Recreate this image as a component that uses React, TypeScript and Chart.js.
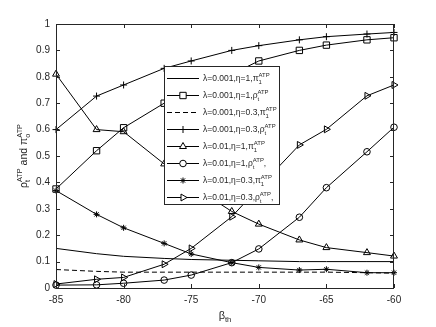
import React, { useEffect, useRef } from 'react';
import { Chart, registerables } from 'chart.js';
import { drawPoint } from 'chart.js/helpers';
Chart.register(...registerables);

// ---- data ----
const betaTh = [-85, -82, -80, -77, -75, -72, -70, -67, -65, -62, -60];
const piL001E1 = [0.15, 0.13, 0.12, 0.112, 0.108, 0.105, 0.103, 0.1, 0.1, 0.1, 0.1];
const rhoL001E1 = [0.375, 0.52, 0.607, 0.7, 0.75, 0.81, 0.86, 0.9, 0.92, 0.94, 0.948];
const piL001E03 = [0.07, 0.063, 0.06, 0.06, 0.06, 0.06, 0.06, 0.06, 0.06, 0.058, 0.056];
const rhoL001E03 = [0.6, 0.727, 0.769, 0.832, 0.86, 0.9, 0.918, 0.94, 0.952, 0.962, 0.968];
const piL01E1 = [0.81, 0.6, 0.592, 0.47, 0.39, 0.29, 0.242, 0.182, 0.153, 0.134, 0.121];
const rhoL01E1 = [0.011, 0.012, 0.018, 0.03, 0.049, 0.096, 0.148, 0.268, 0.38, 0.516, 0.609];
const piL01E03 = [0.369, 0.279, 0.228, 0.169, 0.129, 0.096, 0.078, 0.068, 0.071, 0.058, 0.058];
const rhoL01E03 = [0.015, 0.033, 0.04, 0.09, 0.15, 0.27, 0.38, 0.542, 0.601, 0.728, 0.769];

const xTicks = [-85, -80, -75, -70, -65, -60];
const yTicks = [0, 0.1, 0.2, 0.3, 0.4, 0.5, 0.6, 0.7, 0.8, 0.9, 1];

const legendPrefixes = [
  'λ=0.001,η=1,', 'λ=0.001,η=1,', 'λ=0.001,η=0.3,', 'λ=0.001,η=0.3,',
  'λ=0.01,η=1,', 'λ=0.01,η=1,', 'λ=0.01,η=0.3,', 'λ=0.01,η=0.3,',
];
const legendSymbols = ['π', 'ρ', 'π', 'ρ', 'π', 'ρ', 'π', 'ρ'];
const legendSubs = ['1', 't', '1', 't', '1', 't', '1', 't'];
const legendTails = ['', '', '', '', '', ',', '', ','];

const FONT = '"Liberation Sans", Arial, Helvetica, sans-serif';
const INK = '#262626';

type Part = { t?: string; sup?: string; sub?: string };

function richWidth(ctx: CanvasRenderingContext2D, parts: Part[], size: number) {
  let w = 0;
  for (const p of parts) {
    if (p.t) {
      ctx.font = `${size}px ${FONT}`;
      w += ctx.measureText(p.t).width;
    } else {
      ctx.font = `${size * 0.7}px ${FONT}`;
      const a = p.sup ? ctx.measureText(p.sup).width : 0;
      const b = p.sub ? ctx.measureText(p.sub).width : 0;
      w += Math.max(a, b);
    }
  }
  return w;
}

function drawRich(ctx: CanvasRenderingContext2D, parts: Part[], x: number, y: number, size: number) {
  ctx.textBaseline = 'alphabetic';
  ctx.textAlign = 'left';
  let cx = x;
  for (const p of parts) {
    if (p.t) {
      ctx.font = `${size}px ${FONT}`;
      ctx.fillText(p.t, cx, y);
      cx += ctx.measureText(p.t).width;
    } else {
      ctx.font = `${size * 0.7}px ${FONT}`;
      let w = 0;
      if (p.sup) {
        ctx.fillText(p.sup, cx, y - size * 0.45);
        w = Math.max(w, ctx.measureText(p.sup).width);
      }
      if (p.sub) {
        ctx.fillText(p.sub, cx, y + size * 0.3);
        w = Math.max(w, ctx.measureText(p.sub).width);
      }
      cx += w;
    }
  }
}

const seriesList = [
  { data: piL001E1, style: false as any, r: 0, dash: [] as number[], rot: 0 },
  { data: rhoL001E1, style: 'rect', r: 4.5, dash: [], rot: 0 },
  { data: piL001E03, style: false as any, r: 0, dash: [5, 3], rot: 0 },
  { data: rhoL001E03, style: 'cross', r: 3.5, dash: [], rot: 0 },
  { data: piL01E1, style: 'triangle', r: 4, dash: [], rot: 0 },
  { data: rhoL01E1, style: 'circle', r: 3.3, dash: [], rot: 0 },
  { data: piL01E03, style: 'star', r: 3, dash: [], rot: 0 },
  { data: rhoL01E03, style: 'triangle', r: 4, dash: [], rot: 90 },
];

const decor = {
  id: 'decor',
  afterDatasetsDraw(chart: any) {
    const ctx: CanvasRenderingContext2D = chart.ctx;
    const { left, right, top, bottom } = chart.chartArea;
    const xs = chart.scales.x;
    const ys = chart.scales.y;
    ctx.save();
    // axes box
    ctx.strokeStyle = INK;
    ctx.lineWidth = 1;
    ctx.setLineDash([]);
    ctx.strokeRect(left + 0.5, top + 0.5, right - left - 1, bottom - top);
    // inward ticks
    ctx.beginPath();
    for (const v of xTicks) {
      const px = Math.round(xs.getPixelForValue(v)) + 0.5;
      ctx.moveTo(px, bottom); ctx.lineTo(px, bottom - 4);
      ctx.moveTo(px, top); ctx.lineTo(px, top + 4);
    }
    for (const v of yTicks) {
      const py = Math.round(ys.getPixelForValue(v)) + 0.5;
      ctx.moveTo(left, py); ctx.lineTo(left + 4, py);
      ctx.moveTo(right, py); ctx.lineTo(right - 4, py);
    }
    ctx.stroke();

    // legend
    const bx = 164, by = 66, bw = 115, bh = 138;
    ctx.fillStyle = '#ffffff';
    ctx.fillRect(bx, by, bw, bh);
    ctx.strokeStyle = '#262626';
    ctx.strokeRect(bx + 0.5, by + 0.5, bw, bh);
    seriesList.forEach((s, i) => {
      const cy = 78 + i * 17;
      ctx.strokeStyle = '#000';
      ctx.lineWidth = 1;
      ctx.setLineDash(s.dash);
      ctx.beginPath();
      ctx.moveTo(167, cy + 0.5);
      ctx.lineTo(199, cy + 0.5);
      ctx.stroke();
      ctx.setLineDash([]);
      if (s.style) {
        ctx.fillStyle = '#ffffff';
        ctx.strokeStyle = '#000';
        drawPoint(ctx, { pointStyle: s.style, rotation: s.rot, radius: s.r, borderWidth: 1 } as any, 183, cy + 0.5);
      }
      ctx.fillStyle = INK;
      const parts: Part[] = [
        { t: legendPrefixes[i] + legendSymbols[i] },
        { sup: 'ATP', sub: legendSubs[i] },
      ];
      if (legendTails[i]) parts.push({ t: legendTails[i] });
      drawRich(ctx, parts, 203, cy + 3, 8.5);
    });

    // x title
    ctx.fillStyle = INK;
    const xt: Part[] = [{ t: 'β' }, { sub: 'th' }];
    const xw = richWidth(ctx, xt, 11);
    drawRich(ctx, xt, (left + right) / 2 - xw / 2, 319, 11);

    // y title
    const yt: Part[] = [{ t: 'ρ' }, { sup: 'ATP', sub: 't' }, { t: ' and π' }, { sup: 'ATP', sub: 'o' }];
    const yw = richWidth(ctx, yt, 10.5);
    ctx.translate(27, (top + bottom) / 2);
    ctx.rotate(-Math.PI / 2);
    drawRich(ctx, yt, -yw / 2, 0, 10.5);
    ctx.restore();
  },
};

export default function App() {
  const ref = useRef<HTMLCanvasElement>(null);
  useEffect(() => {
    if (!ref.current) return;
    const datasets = seriesList.map((s) => ({
      data: betaTh.map((x, i) => ({ x, y: s.data[i] })),
      borderColor: '#000000',
      borderWidth: 1,
      borderDash: s.dash,
      pointStyle: s.style,
      pointRadius: s.r,
      pointRotation: s.rot,
      pointBorderWidth: 1,
      pointBorderColor: '#000000',
      pointBackgroundColor: 'rgba(0,0,0,0)',
      tension: 0,
      fill: false,
      clip: false as any,
    }));
    const chart = new Chart(ref.current, {
      type: 'line',
      data: { datasets },
      plugins: [decor],
      options: {
        responsive: false,
        devicePixelRatio: 1,
        animation: false,
        layout: { padding: { top: 24, right: 42, left: 0, bottom: 0 } },
        plugins: { legend: { display: false }, tooltip: { enabled: false } },
        scales: {
          x: {
            type: 'linear',
            min: -85,
            max: -60,
            afterBuildTicks: (s: any) => { s.ticks = xTicks.map((v) => ({ value: v })); },
            ticks: { color: INK, font: { family: FONT, size: 10 }, padding: 6, maxRotation: 0 },
            grid: { display: false, drawTicks: false },
            border: { display: false },
            afterFit: (s: any) => { s.height = 39; },
          },
          y: {
            type: 'linear',
            min: 0,
            max: 1,
            afterBuildTicks: (s: any) => { s.ticks = yTicks.map((v) => ({ value: v })); },
            ticks: {
              color: INK,
              font: { family: FONT, size: 10 },
              padding: 6,
              callback: (v: any) => String(Number(Number(v).toFixed(1))),
            },
            grid: { display: false, drawTicks: false },
            border: { display: false },
            afterFit: (s: any) => { s.width = 56; },
          },
        },
      },
    });
    return () => chart.destroy();
  }, []);
  return (
    <div style={{ position: 'fixed', left: 0, top: 0, width: 436, height: 327, background: '#fff' }}>
      <canvas ref={ref} width={436} height={327} />
    </div>
  );
}
